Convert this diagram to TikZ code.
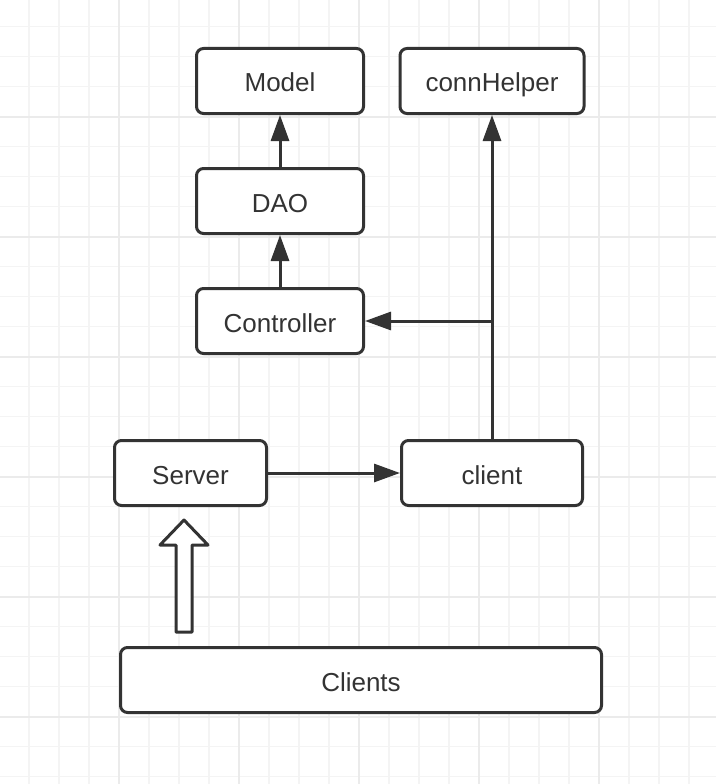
\documentclass[tikz,border=0pt]{standalone}
\usepackage{fontspec}
\setmainfont{Liberation Sans}
\usetikzlibrary{arrows.meta}
\definecolor{ink}{HTML}{333333}
\definecolor{gridminor}{HTML}{F4F4F4}
\definecolor{gridmajor}{HTML}{EBEBEB}
\tikzset{
  box/.style={draw=ink, line width=3pt, rounded corners=7pt, fill=white,
    text=ink, font=\fontsize{26}{30}\selectfont, inner sep=0pt,
    text height=27pt, text depth=5pt, minimum height=65pt},
  conn/.style={draw=ink, line width=3pt, -{Triangle[length=26pt,width=18pt]}},
  hollow/.style={draw=ink, line width=3pt, fill=white, line join=round}
}
\begin{document}
\begin{tikzpicture}[x=1pt,y=-1pt]
\useasboundingbox (0,0) rectangle (716,784);
\fill[white] (0,0) rectangle (716,784);
% grid
\foreach \x in {29,59,...,719} \draw[gridminor, line width=1.5pt] (\x,0) -- (\x,784);
\foreach \y in {26.7,56.7,...,790} \draw[gridminor, line width=1.5pt] (0,\y) -- (716,\y);
\foreach \x in {119,239,...,719} \draw[gridmajor, line width=2pt] (\x,0) -- (\x,784);
\foreach \y in {116.7,236.7,...,790} \draw[gridmajor, line width=2pt] (0,\y) -- (716,\y);
% boxes
\node[box, minimum width=167pt] (model) at (280,81) {Model};
\node[box, minimum width=167pt] (dao) at (280,201) {DAO};
\node[box, minimum width=167pt] (ctrl) at (280,321) {Controller};
\node[box, minimum width=184pt] (conn) at (492,81) {connHelper};
\node[box, minimum width=181pt] (client) at (492,473) {client};
\node[box, minimum width=152pt] (server) at (190.5,473) {Server};
\node[box, minimum width=481pt] (clients) at (361,680) {Clients};
% connectors
\draw[conn] (dao.north) -- (model.south);
\draw[conn] (ctrl.north) -- (dao.south);
\draw[conn] (client.north) -- (conn.south);
\coordinate (junc) at (492,321);
\draw[conn] (junc) -- (ctrl.east);
\draw[conn] (server.east) -- (client.west);
% hollow block arrow from Clients to Server
\draw[hollow] (176,632) -- (176,545) -- (160,545) -- (184,520) -- (208,545) -- (192,545) -- (192,632) -- cycle;
\end{tikzpicture}
\end{document}
